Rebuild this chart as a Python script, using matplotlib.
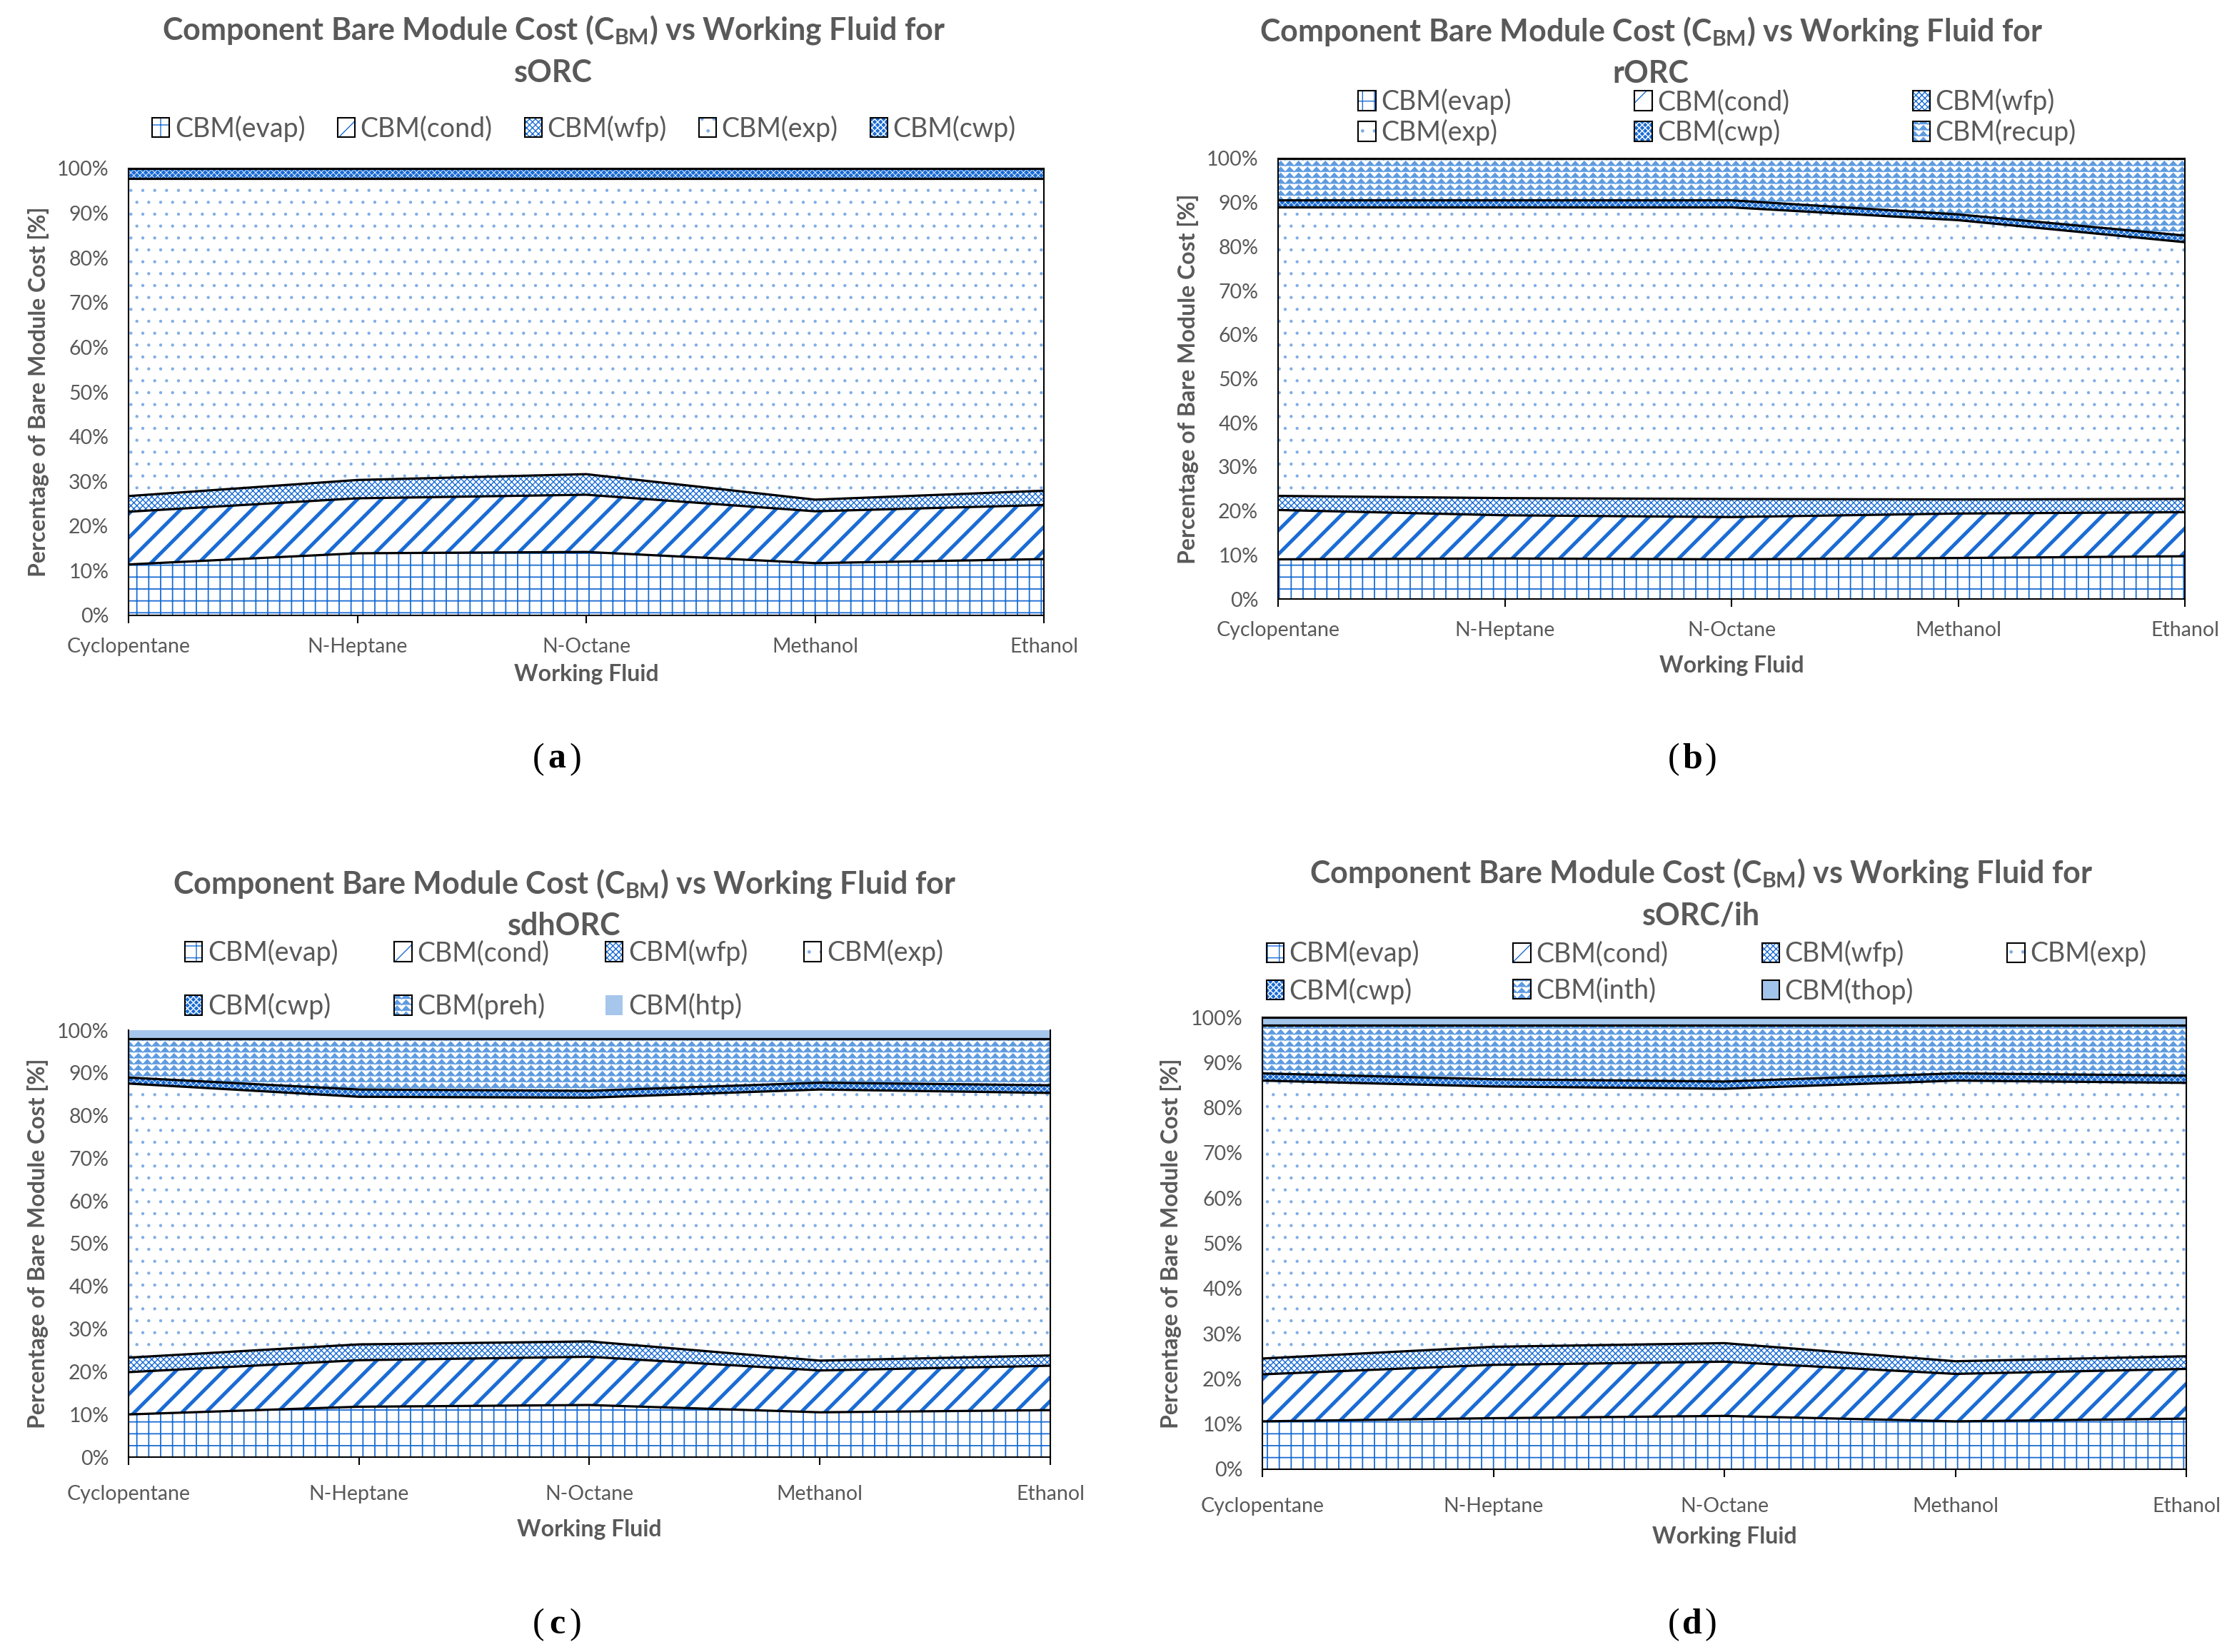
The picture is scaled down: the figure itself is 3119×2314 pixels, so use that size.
import numpy as np
import matplotlib
matplotlib.use('Agg')
import matplotlib.pyplot as plt
import matplotlib.hatch as mhatch
from matplotlib.path import Path
from matplotlib.patches import Patch
from matplotlib.ticker import PercentFormatter, MultipleLocator

# figure size in pixels (dpi 100)
W, H = 3119, 2314

fluids = ['Cyclopentane', 'N-Heptane', 'N-Octane', 'Methanol', 'Ethanol']

# (a) sORC, share of bare module cost [%]
a_evap = [11.4, 13.9, 14.2, 11.7, 12.6]
a_cond = [11.8, 12.3, 12.8, 11.6, 12.1]
a_wfp = [3.5, 4.1, 4.6, 2.6, 3.2]
a_exp = [71.1, 67.5, 66.2, 71.9, 69.9]
a_cwp = [2.2, 2.2, 2.2, 2.2, 2.2]

# (b) rORC
b_evap = [9.0, 9.2, 9.0, 9.3, 9.7]
b_cond = [11.2, 9.8, 9.6, 10.1, 10.0]
b_wfp = [3.2, 3.9, 4.1, 3.2, 3.0]
b_exp = [65.5, 66.0, 66.2, 63.4, 58.3]
b_cwp = [1.6, 1.6, 1.6, 1.3, 1.5]
b_recup = [9.5, 9.5, 9.5, 12.7, 17.5]

# (c) sdhORC
c_evap = [10.0, 11.8, 12.2, 10.5, 11.0]
c_cond = [9.9, 10.9, 11.3, 9.8, 10.4]
c_wfp = [3.4, 3.7, 3.6, 2.3, 2.4]
c_exp = [64.2, 58.0, 57.1, 63.5, 61.5]
c_cwp = [1.4, 1.7, 1.6, 1.6, 1.8]
c_preh = [9.1, 11.9, 12.2, 10.3, 10.9]
c_htp = [2.0, 2.0, 2.0, 2.0, 2.0]

# (d) sORC/ih
d_evap = [10.6, 11.3, 11.8, 10.6, 11.2]
d_cond = [10.4, 11.8, 12.0, 10.5, 11.0]
d_wfp = [3.5, 4.0, 4.1, 2.8, 2.8]
d_exp = [61.5, 57.6, 56.3, 62.1, 60.5]
d_cwp = [1.6, 1.6, 1.6, 1.6, 1.6]
d_inth = [10.6, 11.9, 12.4, 10.6, 11.1]
d_thop = [1.8, 1.8, 1.8, 1.8, 1.8]


# excel has a zigzag fill, matplotlib has not -> use '*' for it
class ZigZag(mhatch.HatchPatternBase):
    def __init__(self, hatch, density):
        self.num_rows = hatch.count('*') * density
        self.teeth = 8
        self.num_vertices = self.num_rows * (2 * self.teeth + 1)

    def set_vertices_and_codes(self, vertices, codes):
        n = 2 * self.teeth + 1
        xs = np.linspace(0, 1, n)
        amp = 0.4 / self.num_rows
        for r in range(self.num_rows):
            y0 = (r + 0.5) / self.num_rows
            ys = y0 + amp * np.where(np.arange(n) % 2 == 0, -1, 1)
            vertices[r * n:(r + 1) * n, 0] = xs
            vertices[r * n:(r + 1) * n, 1] = ys
            codes[r * n] = Path.MOVETO
            codes[r * n + 1:(r + 1) * n] = Path.LINETO


mhatch._hatch_types = [ZigZag if t is mhatch.Stars else t
                       for t in mhatch._hatch_types]

plt.rcParams['font.family'] = ['Lato', 'DejaVu Sans']
plt.rcParams['mathtext.fontset'] = 'custom'
plt.rcParams['mathtext.rm'] = 'Lato:bold'
plt.rcParams['mathtext.bf'] = 'Lato:bold'
plt.rcParams['mathtext.it'] = 'Lato:bold:italic'

GREY = '#595959'
BLUE = '#1a6cd4'

# fill style per component: facecolor, hatch, hatch colour, hatch width
styles = {
    'evap': ('white', '+', BLUE, 1.3),
    'cond': ('white', '/', BLUE, 3.6),
    'wfp': ('white', 'xxxx', BLUE, 1.0),
    'exp': ('white', '.', '#80ade6', 0.7),
    'cwp': (BLUE, 'xxxx', 'white', 0.6),
    'zig': ('white', '**', '#5e9be0', 0.9),
    'htp': ('#a7c6ec', None, '#a7c6ec', 0.5),
    'thop': ('#a3c4ea', None, '#a3c4ea', 0.5),
}


def px_box(x0, y0, x1, y1):
    return [x0 / W, 1 - y1 / H, (x1 - x0) / W, (y1 - y0) / H]


def drawPanel(box, layers, xlab_y, ylab_x, tick_pad, top_spine=True):
    ax = fig.add_axes(box)
    x = np.arange(len(fluids))
    base = np.zeros(len(fluids))
    for name, vals, key, border in layers:
        fc, hatch, hc, hlw = styles[key]
        top = base + np.array(vals) / 100.0
        with plt.rc_context({'hatch.linewidth': hlw, 'hatch.color': hc}):
            coll = ax.fill_between(x, base, top, facecolor=fc, edgecolor=hc,
                                   hatch=hatch, linewidth=0, zorder=1)
        if hasattr(coll, 'set_hatch_linewidth'):
            coll.set_hatch_linewidth(hlw)
        if border:
            ax.plot(x, top, color='black', lw=2.3, zorder=3)
        base = top
    ax.set_xlim(0, len(fluids) - 1)
    ax.set_ylim(0, 1)
    ax.yaxis.set_major_locator(MultipleLocator(0.1))
    ax.yaxis.set_major_formatter(PercentFormatter(1.0, decimals=0))
    ax.set_xticks(x)
    ax.set_xticklabels(fluids)
    ax.tick_params(axis='x', direction='out', length=8, width=1.5,
                   pad=tick_pad, labelsize=20.5, labelcolor=GREY)
    ax.tick_params(axis='y', length=0, pad=20, labelsize=20.5, labelcolor=GREY)
    for s in ax.spines.values():
        s.set_color('black')
        s.set_linewidth(1.5)
    ax.spines['top'].set_visible(top_spine)
    ax.set_xlabel('Working Fluid', fontsize=23, fontweight='bold', color=GREY)
    ax.set_ylabel('Percentage of Bare Module Cost [%]', fontsize=23,
                  fontweight='bold', color=GREY)
    ax.xaxis.set_label_coords(0.5, xlab_y)
    ax.xaxis.label.set_va('center')
    ax.yaxis.set_label_coords(ylab_x, 0.5)
    ax.yaxis.label.set_va('center')
    return ax


def legendHandle(key, border):
    fc, hatch, hc, hlw = styles[key]
    with plt.rc_context({'hatch.linewidth': hlw}):
        p = Patch(facecolor=fc, edgecolor=hc, hatch=hatch, linewidth=0)
    if border:
        return (p, Patch(facecolor='none', edgecolor='black', linewidth=1.5))
    return p


def drawLegend(layers, order, ncol, cx, cy, colsp, rowsp):
    handles = [legendHandle(layers[i][2], layers[i][3]) for i in order]
    labels = ['CBM(' + layers[i][0] + ')' for i in order]
    fig.legend(handles, labels, loc='center', bbox_to_anchor=(cx / W, 1 - cy / H),
               ncol=ncol, frameon=False, fontsize=27, labelcolor=GREY,
               handlelength=0.65, handleheight=0.75, handletextpad=0.2,
               columnspacing=colsp, labelspacing=rowsp, borderpad=0)


def drawTitle(cx, y1, y2, sub):
    fig.text(cx / W, 1 - y1 / H,
             r'Component Bare Module Cost (C$_{\mathrm{BM}}$) vs Working Fluid for',
             ha='center', va='center', fontsize=31, fontweight='bold', color=GREY)
    fig.text(cx / W, 1 - y2 / H, sub, ha='center', va='center',
             fontsize=31, fontweight='bold', color=GREY)


def panelLabel(cx, cy, letter):
    y = 1 - cy / H
    fig.text(cx / W - 0.0055, y, '(', ha='right', va='center', fontsize=36,
             family='Liberation Serif')
    fig.text(cx / W, y, letter, ha='center', va='center', fontsize=36,
             family='Liberation Serif', fontweight='bold')
    fig.text(cx / W + 0.0055, y, ')', ha='left', va='center', fontsize=36,
             family='Liberation Serif')


fig = plt.figure(figsize=(W / 100, H / 100), dpi=100, facecolor='white')

# (a)
la = [('evap', a_evap, 'evap', True), ('cond', a_cond, 'cond', True),
      ('wfp', a_wfp, 'wfp', True), ('exp', a_exp, 'exp', True),
      ('cwp', a_cwp, 'cwp', True)]
drawPanel(px_box(180, 236, 1462, 862), la, -0.131, -0.098, 14)
drawTitle(775, 42, 102, 'sORC')
drawLegend(la, [0, 1, 2, 3, 4], 5, 818, 180, 1.2, 0.3)
panelLabel(780, 1064, 'a')

# (b)
lb = [('evap', b_evap, 'evap', True), ('cond', b_cond, 'cond', True),
      ('wfp', b_wfp, 'wfp', True), ('exp', b_exp, 'exp', True),
      ('cwp', b_cwp, 'cwp', True), ('recup', b_recup, 'zig', True)]
drawPanel(px_box(1790, 222, 3060, 839), lb, -0.151, -0.099, 14)
drawTitle(2312, 44, 103, 'rORC')
drawLegend(lb, [0, 3, 1, 4, 2, 5], 3, 2405, 164, 4.6, 0.15)
panelLabel(2370, 1064, 'b')

# (c)
lc = [('evap', c_evap, 'evap', True), ('cond', c_cond, 'cond', True),
      ('wfp', c_wfp, 'wfp', True), ('exp', c_exp, 'exp', True),
      ('cwp', c_cwp, 'cwp', True), ('preh', c_preh, 'zig', True),
      ('htp', c_htp, 'htp', False)]
drawPanel(px_box(180, 1443, 1471, 2041), lc, -0.169, -0.098, 20,
          top_spine=False)
drawTitle(790, 1238, 1297, 'sdhORC')
drawLegend(lc, [0, 4, 1, 5, 2, 6, 3], 4, 790, 1372, 2.1, 1.0)
panelLabel(780, 2276, 'c')

# (d)
ld = [('evap', d_evap, 'evap', True), ('cond', d_cond, 'cond', True),
      ('wfp', d_wfp, 'wfp', True), ('exp', d_exp, 'exp', True),
      ('cwp', d_cwp, 'cwp', True), ('inth', d_inth, 'zig', True),
      ('thop', d_thop, 'thop', True)]
drawPanel(px_box(1768, 1425, 3062, 2058), ld, -0.149, -0.099, 20)
drawTitle(2382, 1223, 1283, 'sORC/ih')
drawLegend(ld, [0, 4, 1, 5, 2, 6, 3], 4, 2390, 1362, 3.5, 0.4)
panelLabel(2370, 2276, 'd')

fig.savefig('out.png', dpi=100, facecolor='white')
